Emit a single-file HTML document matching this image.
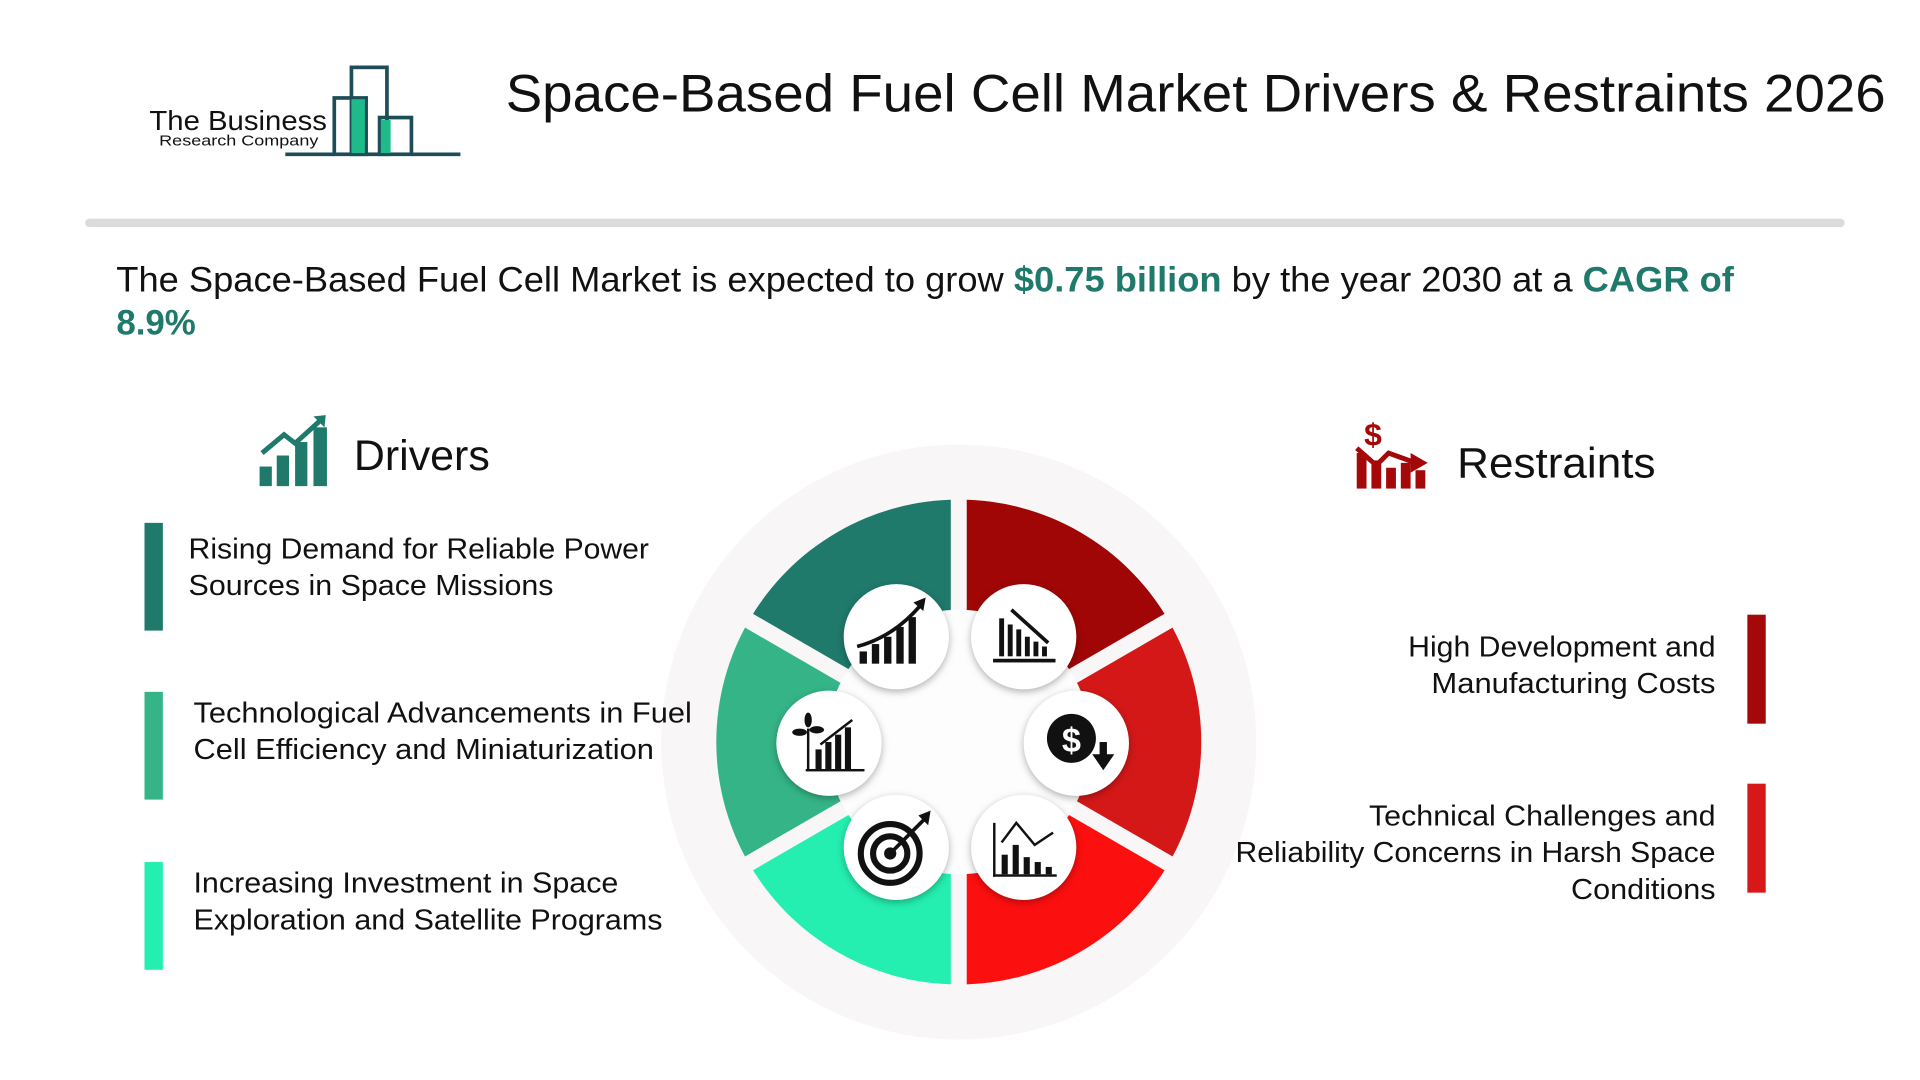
<!DOCTYPE html>
<html><head><meta charset="utf-8"><style>
html,body{margin:0;padding:0;background:#fff;width:1920px;height:1080px;overflow:hidden}
svg{display:block}
text{font-family:"Liberation Sans",sans-serif}
</style></head><body>
<svg width="1920" height="1080" viewBox="0 0 1568 882" xmlns="http://www.w3.org/2000/svg">
<rect width="1568" height="882" fill="#fff"/>
<!-- logo -->
<text x="122" y="106" font-size="23" fill="#111" textLength="145" lengthAdjust="spacingAndGlyphs">The Business</text>
<text x="130" y="119" font-size="12" fill="#111" textLength="130" lengthAdjust="spacingAndGlyphs">Research Company</text>
<g fill="none" stroke="#1d4d57" stroke-width="3">
<rect x="287" y="55" width="29" height="71"/>
<rect x="273" y="80" width="26" height="46"/>
<rect x="310" y="96" width="26" height="30"/>
<polyline points="233,126 273,126"/>
<polyline points="336,126 376,126"/>
</g>
<rect x="287" y="81" width="11" height="44" fill="#1fba8a"/>
<rect x="311" y="98" width="8" height="27" fill="#1fba8a"/>
<!-- title -->
<text x="413" y="91" font-size="43" fill="#111" textLength="1127" lengthAdjust="spacingAndGlyphs">Space-Based Fuel Cell Market Drivers &amp; Restraints 2026</text>
<line x1="73" y1="182" x2="1503" y2="182" stroke="#dcdcdc" stroke-width="7" stroke-linecap="round"/>
<!-- subtitle -->
<text x="95" y="238" font-size="28.5" fill="#111" textLength="1321" lengthAdjust="spacingAndGlyphs">The Space-Based Fuel Cell Market is expected to grow <tspan fill="#1f7a6c" font-weight="bold">$0.75 billion</tspan> by the year 2030 at a <tspan fill="#1f7a6c" font-weight="bold">CAGR of</tspan></text>
<text x="95" y="273" font-size="28.5" fill="#1f7a6c" font-weight="bold">8.9%</text>
<!-- drivers header -->
<g fill="#1f7a6c">
<rect x="212" y="381" width="10" height="16"/><rect x="226" y="372" width="10" height="25"/><rect x="241" y="361" width="10" height="36"/><rect x="256" y="349" width="11" height="48"/>
<polyline points="214,370 232,355 241,362 262,343" fill="none" stroke="#1f7a6c" stroke-width="4"/>
<polygon points="256,340 266,339 265,349"/>
</g>
<text x="289" y="384" font-size="35" fill="#111" textLength="111" lengthAdjust="spacingAndGlyphs">Drivers</text>
<!-- restraints header -->
<g fill="#a50808">
<text x="1114" y="364" font-size="26" font-weight="bold" fill="#a50808">$</text>
<rect x="1108" y="370" width="8" height="29"/><rect x="1120" y="376" width="8" height="23"/><rect x="1132" y="382" width="8" height="17"/><rect x="1144" y="378" width="8" height="21"/><rect x="1156" y="384" width="8" height="15"/>
<polyline points="1108,366 1124,380 1134,370 1156,378" fill="none" stroke="#a50808" stroke-width="4"/>
<polygon points="1152,370 1166,378 1152,386"/>
</g>
<text x="1190" y="390" font-size="35" fill="#111" textLength="162" lengthAdjust="spacingAndGlyphs">Restraints</text>
<!-- driver bars -->
<rect x="118" y="427" width="15" height="88" fill="#1f7a6c"/>
<rect x="118" y="565" width="15" height="88" fill="#35b587"/>
<rect x="118" y="704" width="15" height="88" fill="#24efb0"/>
<!-- restraint items -->
<rect x="1427" y="502" width="15" height="89" fill="#a50808"/>
<rect x="1427" y="640" width="15" height="89" fill="#d81818"/>
<!-- wheel -->
<circle cx="783" cy="606" r="243" fill="#f8f6f6"/>
<g transform="translate(783,606)">
<path d="M0,0 L0,-198 A198,198 0 0 1 171.5,-99 Z" fill="#a00606"/>
<path d="M0,0 L171.5,-99 A198,198 0 0 1 171.5,99 Z" fill="#d41818"/>
<path d="M0,0 L171.5,99 A198,198 0 0 1 0,198 Z" fill="#fc0f0f"/>
<path d="M0,0 L0,198 A198,198 0 0 1 -171.5,99 Z" fill="#24efb0"/>
<path d="M0,0 L-171.5,99 A198,198 0 0 1 -171.5,-99 Z" fill="#35b587"/>
<path d="M0,0 L-171.5,-99 A198,198 0 0 1 0,-198 Z" fill="#1f7a6c"/>
<g stroke="#f8f6f6" stroke-width="13">
<line x1="0" y1="-210" x2="0" y2="210"/>
<line x1="-185" y1="-107" x2="185" y2="107"/>
<line x1="-185" y1="107" x2="185" y2="-107"/>
</g>
<circle r="108" fill="#fdfdfd"/>
</g>
<g fill="#fff" style="filter:drop-shadow(0 2px 3px rgba(0,0,0,0.3))">
<circle cx="732" cy="520" r="43"/><circle cx="836" cy="520" r="43"/>
<circle cx="677" cy="607" r="43"/><circle cx="879" cy="607" r="43"/>
<circle cx="732" cy="692" r="43"/><circle cx="836" cy="692" r="43"/>
</g>
<!-- icons -->
<g fill="#111">
<rect x="702" y="532" width="6" height="10"/><rect x="712" y="526" width="6" height="16"/><rect x="722" y="520" width="6" height="22"/><rect x="732" y="512" width="6" height="30"/><rect x="742" y="504" width="6" height="38"/>
<path d="M700,528 Q730,520 752,494" fill="none" stroke="#111" stroke-width="3"/><polygon points="746,492 756,488 754,499"/>
<rect x="816" y="505" width="4" height="31"/><rect x="823" y="510" width="4" height="26"/><rect x="830" y="514" width="4" height="22"/><rect x="837" y="520" width="4" height="16"/><rect x="844" y="524" width="4" height="12"/><rect x="851" y="528" width="4" height="8"/>
<rect x="811" y="538" width="51" height="3"/>
<line x1="826" y1="498" x2="856" y2="525" stroke="#111" stroke-width="3"/>
<circle cx="875" cy="603" r="20"/>
<text x="875" y="614" font-size="28" font-weight="bold" fill="#fff" text-anchor="middle">$</text>
<rect x="898" y="606" width="6" height="12"/><polygon points="892,616 910,616 901,629"/>
<rect x="666" y="612" width="5" height="16"/><rect x="674" y="606" width="5" height="22"/><rect x="682" y="600" width="5" height="28"/><rect x="690" y="594" width="5" height="34"/>
<rect x="658" y="628" width="48" height="2"/>
<line x1="660" y1="628" x2="660" y2="595" stroke="#111" stroke-width="2"/>
<ellipse cx="653" cy="598" rx="6" ry="3"/><ellipse cx="667" cy="596" rx="6" ry="3"/><ellipse cx="660" cy="588" rx="3" ry="6"/>
<line x1="670" y1="608" x2="696" y2="588" stroke="#111" stroke-width="2"/>
<circle cx="727" cy="697" r="24" fill="none" stroke="#111" stroke-width="5"/>
<circle cx="727" cy="697" r="14" fill="none" stroke="#111" stroke-width="5"/>
<circle cx="727" cy="697" r="5"/>
<line x1="727" y1="697" x2="756" y2="668" stroke="#111" stroke-width="3"/>
<polygon points="750,666 760,662 758,674"/>
<rect x="811" y="672" width="2" height="44"/><rect x="811" y="714" width="52" height="2"/>
<rect x="818" y="698" width="5" height="16"/><rect x="827" y="690" width="5" height="24"/><rect x="836" y="700" width="5" height="14"/><rect x="845" y="704" width="5" height="10"/><rect x="854" y="708" width="5" height="6"/>
<polyline points="818,688 830,672 845,690 860,680" fill="none" stroke="#111" stroke-width="2"/>
</g>
<!-- driver text (on top) -->
<g font-size="23.5" fill="#111">
<text x="154" y="456" textLength="376" lengthAdjust="spacingAndGlyphs">Rising Demand for Reliable Power</text>
<text x="154" y="486" textLength="298" lengthAdjust="spacingAndGlyphs">Sources in Space Missions</text>
<text x="158" y="590" textLength="407" lengthAdjust="spacingAndGlyphs">Technological Advancements in Fuel</text>
<text x="158" y="620" textLength="376" lengthAdjust="spacingAndGlyphs">Cell Efficiency and Miniaturization</text>
<text x="158" y="729" textLength="347" lengthAdjust="spacingAndGlyphs">Increasing Investment in Space</text>
<text x="158" y="759" textLength="383" lengthAdjust="spacingAndGlyphs">Exploration and Satellite Programs</text>
</g>
<!-- restraint text (on top) -->
<g font-size="23.5" fill="#111">
<text x="1150" y="536" textLength="251" lengthAdjust="spacingAndGlyphs">High Development and</text>
<text x="1169" y="566" textLength="232" lengthAdjust="spacingAndGlyphs">Manufacturing Costs</text>
<text x="1118" y="674" textLength="283" lengthAdjust="spacingAndGlyphs">Technical Challenges and</text>
<text x="1009" y="704" textLength="392" lengthAdjust="spacingAndGlyphs">Reliability Concerns in Harsh Space</text>
<text x="1283" y="734" textLength="118" lengthAdjust="spacingAndGlyphs">Conditions</text>
</g>
</svg>
</body></html>
